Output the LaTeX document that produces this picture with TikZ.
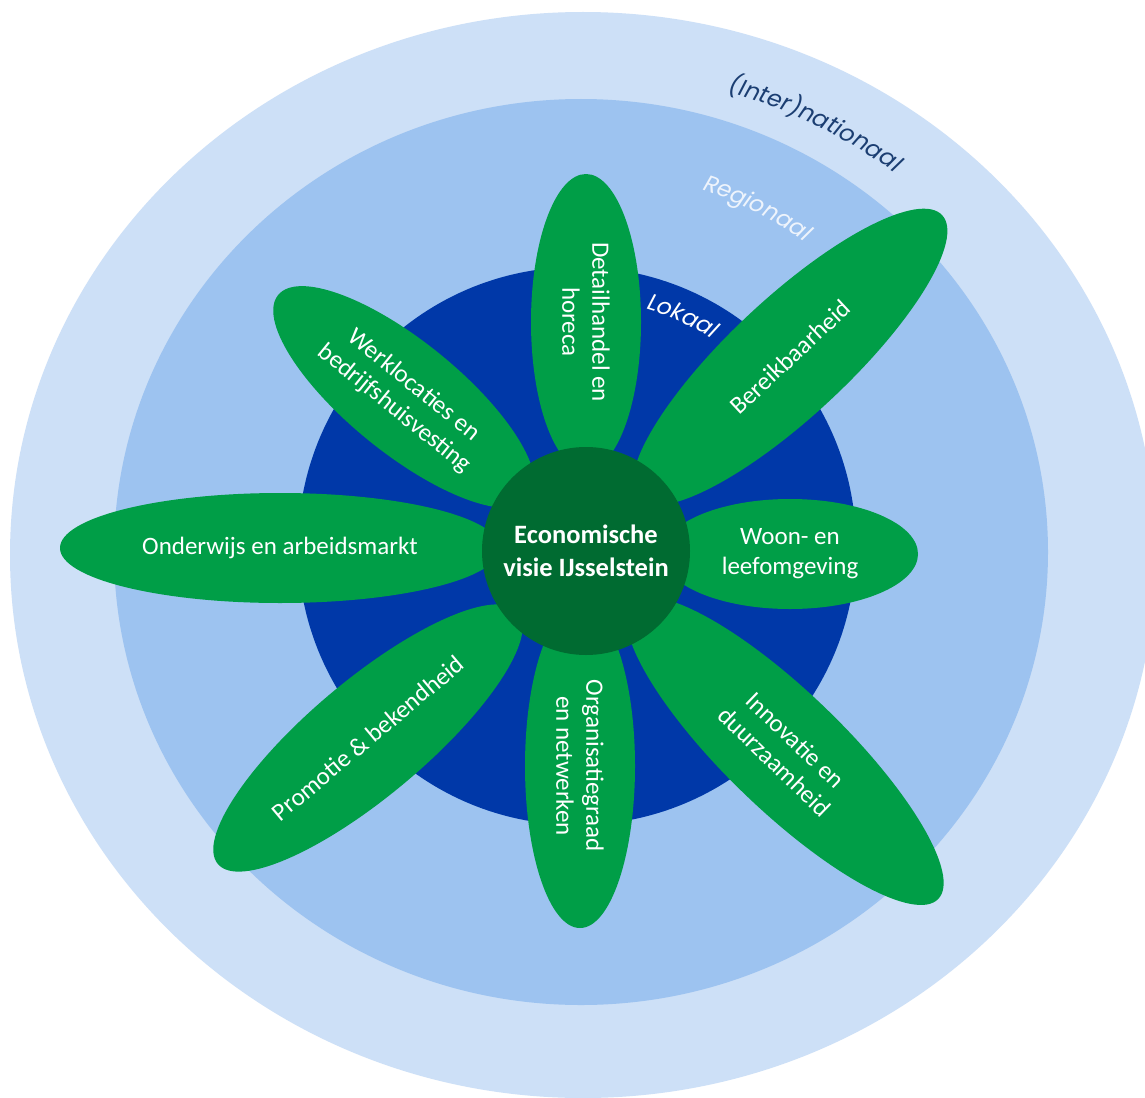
\documentclass[tikz,border=0pt]{standalone}
\usepackage{fontspec}
\setmainfont{Carlito}
\newfontfamily\ringfont[FakeSlant=0.18]{Poppins}
\usetikzlibrary{shapes.geometric,decorations.text}
\definecolor{outerblue}{HTML}{CDE0F7}
\definecolor{midblue}{HTML}{9DC3F0}
\definecolor{innerblue}{HTML}{0038A8}
\definecolor{petalgreen}{HTML}{009E47}
\definecolor{centergreen}{HTML}{006B31}
\definecolor{navytext}{HTML}{1B3E72}
\definecolor{regtext}{HTML}{EEF4FC}
\begin{document}
\begin{tikzpicture}[x=1pt,y=-1pt,
  petal/.style={ellipse, fill=petalgreen, text=white, inner sep=0pt, align=center,
    font=\fontsize{25}{30}\selectfont, minimum height=110pt},
  core/.style={circle, fill=centergreen, text=white, inner sep=0pt, align=center,
    minimum size=208pt, font=\bfseries\fontsize{26.5}{33}\selectfont}]
\useasboundingbox (0,0) rectangle (1145,1097);
\clip (0,0) rectangle (1145,1097);
\fill[white] (0,0) rectangle (1145,1097);
% rings
\fill[outerblue] (583,555) ellipse [x radius=573, y radius=543];
\fill[midblue] (581,552) ellipse [x radius=467, y radius=453];
\fill[innerblue] (577,546) circle [radius=279];
% petals
\node[petal, minimum width=296pt, rotate=-90] (detail) at (586,322) {Detailhandel en\\horeca};
\node[petal, minimum width=416pt, minimum height=118pt, rotate=43] (bereik) at (790,357) {Bereikbaarheid};
\node[petal, minimum width=256pt, rotate=0] (woon) at (790,554) {Woon- en\\leefomgeving};
\node[petal, minimum width=426pt, minimum height=118pt, rotate=-44] (innov) at (785,751) {Innovatie en\\duurzaamheid};
\node[petal, minimum width=324pt, rotate=-90] (organ) at (580,766) {Organisatiegraad\\en netwerken};
\node[petal, minimum width=392pt, minimum height=116pt, rotate=40] (promo) at (368,738) {Promotie \& bekendheid};
\node[petal, minimum width=440pt, rotate=0] (onder) at (280,548) {Onderwijs en arbeidsmarkt};
\node[petal, minimum width=324pt, minimum height=112pt, rotate=-39] (werk) at (404,397) {Werklocaties en\\bedrijfshuisvesting};
% centre
\node[core] (visie) at (586,551) {Economische\\visie IJsselstein};
% ring labels
\path[decorate, decoration={text along path, text align=center,
  text={|\ringfont\fontsize{23.5}{23.5}\selectfont\color{navytext}|(Inter)nationaal}}]
  (578,555) ++(-90:484) arc[start angle=-90, end angle=-35, x radius=516, y radius=484];
\path[decorate, decoration={text along path, text align=center,
  text={|\ringfont\fontsize{23}{23}\selectfont\color{regtext}|Regionaal}}]
  (581,552) ++(-93:382) arc[start angle=-93, end angle=-33, radius=382];
\path[decorate, decoration={text along path, text align=center,
  text={|\ringfont\fontsize{23}{23}\selectfont\color{white}|Lokaal}}]
  (577,546) ++(-96:247) arc[start angle=-96, end angle=-35, radius=247];
\end{tikzpicture}
\end{document}
